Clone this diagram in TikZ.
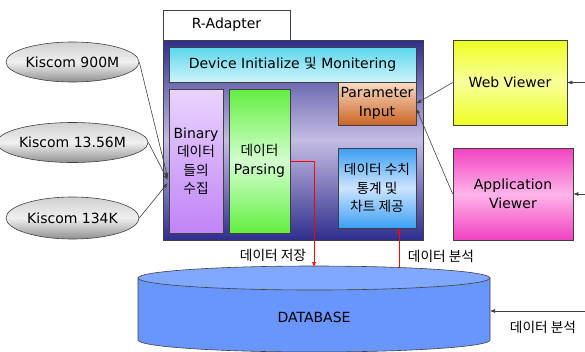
\documentclass[tikz,border=0pt]{standalone}
\usepackage{fontspec}
\setmainfont{DejaVu Sans}
\newfontfamily\krfont{Noto Sans CJK KR}[Scale=0.98]
\usetikzlibrary{shapes.geometric,arrows.meta,calc}
\definecolor{navy}{HTML}{2E2E8C}
\definecolor{lav}{HTML}{C4BCE4}
\definecolor{cyanA}{HTML}{5CD6EC}
\definecolor{cyanB}{HTML}{CDF4FB}
\definecolor{purA}{HTML}{EAD4FF}
\definecolor{purB}{HTML}{C084F6}
\definecolor{grnA}{HTML}{62EE40}
\definecolor{grnB}{HTML}{D4FFD0}
\definecolor{orA}{HTML}{F8DCC6}
\definecolor{orB}{HTML}{CC6424}
\definecolor{blA}{HTML}{3C9EF4}
\definecolor{blB}{HTML}{CCE4FF}
\definecolor{yeA}{HTML}{EEFF22}
\definecolor{yeB}{HTML}{F8FF9C}
\definecolor{mgA}{HTML}{F042C0}
\definecolor{mgB}{HTML}{FFB4EA}
\definecolor{grA}{HTML}{D0D0D0}
\definecolor{grB}{HTML}{F0F0F0}
\definecolor{grC}{HTML}{909090}
\definecolor{dbfill}{HTML}{6896FC}
\definecolor{dbtop}{HTML}{80A8FF}
\definecolor{linegray}{HTML}{404040}
\begin{document}
\begin{tikzpicture}[x=1pt,y=-1pt,
  every node/.style={font=\fontsize{14}{18.5}\selectfont, align=center, inner sep=0pt},
  box/.style={draw=linegray, line width=0.6pt, rectangle},
  ell/.style={ellipse, draw=linegray, line width=0.6pt, top color=grA, bottom color=grC, middle color=grB, minimum width=133, minimum height=40},
  conn/.style={draw=linegray, line width=0.6pt, -{Latex[length=5pt,width=4pt]}},
  redconn/.style={draw=red, line width=0.6pt, -{Latex[length=5pt,width=4pt]}},
  lbl/.style={font=\krfont\fontsize{14}{18.5}\selectfont}
]
\useasboundingbox (0,0) rectangle (585,351);
% R-Adapter tab and panel
\node[box, fill=white, minimum width=127, minimum height=30] (tab) at (226.5,25) {R-Adapter};
\node[box, top color=navy, bottom color=navy, middle color=lav, minimum width=260, minimum height=200] (panel) at (293,140) {};
\node[box, top color=cyanA, bottom color=cyanB, minimum width=247, minimum height=35] (dev) at (292.5,64.5) {Device Initialize {\krfont 및} Monitering};
\node[box, top color=purA, bottom color=purB, minimum width=54, minimum height=144] (bin) at (196,161) {Binary\\{\krfont 데이터}\\{\krfont 들의}\\{\krfont 수집}};
\node[box, top color=grnA, bottom color=grnA, middle color=grnB, minimum width=61, minimum height=144] (pars) at (259.5,161) {{\krfont 데이터}\\Parsing};
\node[box, top color=orA, bottom color=orB, minimum width=78, minimum height=43] (param) at (377,103.5) {Parameter\\Input};
\node[box, top color=blA, bottom color=blA, middle color=blB, minimum width=78, minimum height=80] (stat) at (377,188) {{\krfont 데이터 수치}\\{\krfont 통계 및}\\{\krfont 차트 제공}};
% viewers
\node[box, top color=yeA, bottom color=yeA, middle color=yeB, minimum width=114, minimum height=85] (web) at (510,82.5) {Web Viewer};
\node[box, top color=mgA, bottom color=mgA, middle color=mgB, minimum width=120, minimum height=92] (app) at (513,194) {Application\\Viewer};
% ellipses
\node[ell] (k1) at (72.5,62) {Kiscom 900M};
\node[ell] (k2) at (72.5,142.5) {Kiscom 13.56M};
\node[ell, minimum height=42] (k3) at (72.5,218) {Kiscom 134K};
% database
\path[draw=linegray, line width=0.6pt, fill=dbfill] (138,278) -- (138,340) arc[start angle=180, end angle=0, x radius=176, y radius=12] -- (490,278) -- cycle;
\draw[linegray, line width=0.6pt, fill=dbtop] (314,278) ellipse [x radius=176, y radius=12];
\node (db) at (314,317) {DATABASE};
\coordinate (dbtopA) at (314,267);
\coordinate (dbtopB) at (399,267.5);
\coordinate (dbright) at (490,311);
% connectors from sources
\draw[conn] (k1.east) -- ($(bin.west)+(-1,17)$);
\draw[conn] (k2.east) -- ($(bin.west)+(-1,19)$);
\draw[conn] (k3.east) -- ($(bin.west)+(-1,22)$);
\draw[conn] (web.west) -- (param.east);
\draw[conn] (app.west) -- ($(param.east)+(0,5)$);
\coordinate (inW) at (585,82.5);
\coordinate (inA) at (585,194);
\coordinate (inD) at (585,311);
\draw[conn] (inW) -- (web.east);
\draw[conn] (inA) -- (app.east);
\draw[conn] (inD) -- (dbright);
% red flows
\draw[redconn] (pars.east) -- (314,161) -- (dbtopA);
\draw[redconn] (dbtopB) -- ($(stat.south)+(22,0)$);
% labels
\node[lbl] (l1) at (273,255) {데이터 저장};
\node[lbl] (l2) at (441,256) {데이터 분석};
\node[lbl] (l3) at (543,327) {데이터 분석};
\end{tikzpicture}
\end{document}
